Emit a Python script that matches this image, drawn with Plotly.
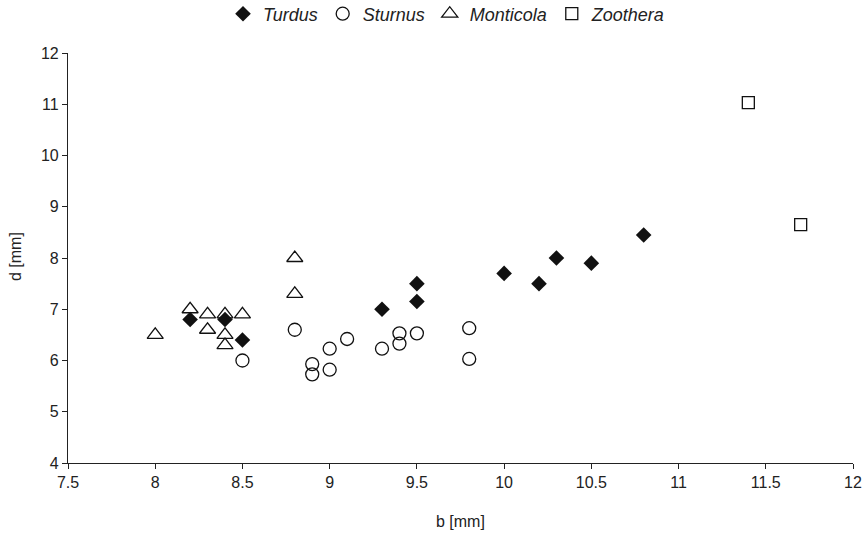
import plotly.graph_objects as go

turdus_b = [8.2, 8.4, 8.5, 9.3, 9.5, 9.5, 10.0, 10.2, 10.3, 10.5, 10.8]
turdus_d = [6.8, 6.8, 6.4, 7.0, 7.5, 7.15, 7.7, 7.5, 8.0, 7.9, 8.45]

sturnus_b = [8.5, 8.8, 8.9, 8.9, 9.0, 9.0, 9.1, 9.3, 9.4, 9.4, 9.5, 9.8, 9.8]
sturnus_d = [6.0, 6.6, 5.93, 5.73, 6.23, 5.82, 6.42, 6.23, 6.53, 6.33, 6.53, 6.63, 6.03]

monticola_b = [8.0, 8.2, 8.3, 8.3, 8.4, 8.4, 8.4, 8.5, 8.8, 8.8]
monticola_d = [6.5, 7.0, 6.9, 6.6, 6.9, 6.5, 6.3, 6.9, 8.0, 7.3]

zoothera_b = [11.4, 11.7]
zoothera_d = [11.03, 8.65]

x_ticks = [7.5, 8, 8.5, 9, 9.5, 10, 10.5, 11, 11.5, 12]
y_ticks = [4, 5, 6, 7, 8, 9, 10, 11, 12]

W, H = 866, 535
L, R, T, B = 68, 13, 53, 72
plot_w = W - L - R
plot_h = H - T - B

fig = go.Figure()
fig.add_trace(go.Scatter(x=monticola_b, y=monticola_d, mode="markers", name="Monticola",
                         marker=dict(symbol="triangle-up-open", size=14, color="#111",
                                     line=dict(width=1.3))))
fig.add_trace(go.Scatter(x=sturnus_b, y=sturnus_d, mode="markers", name="Sturnus",
                         marker=dict(symbol="circle-open", size=13, color="#111",
                                     line=dict(width=1.3))))
fig.add_trace(go.Scatter(x=zoothera_b, y=zoothera_d, mode="markers", name="Zoothera",
                         marker=dict(symbol="square-open", size=12, color="#111",
                                     line=dict(width=1.3))))
fig.add_trace(go.Scatter(x=turdus_b, y=turdus_d, mode="markers", name="Turdus",
                         marker=dict(symbol="diamond", size=12, color="#111",
                                     line=dict(width=0))))

fig.update_layout(
    width=W, height=H,
    margin=dict(l=L, r=R, t=T, b=B, autoexpand=False),
    paper_bgcolor="white", plot_bgcolor="white",
    font=dict(family="Liberation Sans, Arial, sans-serif", size=16, color="#222"),
    legend=dict(orientation="h", x=(446.5 - L) / plot_w, xanchor="center",
                y=1 + (T - 14) / plot_h, yanchor="middle",
                traceorder="normal", font=dict(size=18, style="italic"),
                itemwidth=30),
    xaxis=dict(range=[7.5, 12], tickvals=x_ticks, ticktext=[str(v) for v in x_ticks],
               showgrid=False, zeroline=False, showline=True, linecolor="#222",
               linewidth=1.2, ticks="outside", ticklen=5, tickcolor="#222",
               automargin=False, tickfont=dict(size=16)),
    yaxis=dict(range=[4, 12], tickvals=y_ticks, showgrid=False, zeroline=False,
               showline=True, linecolor="#222", linewidth=1.2, ticks="outside",
               ticklen=5, tickcolor="#222", automargin=False, tickfont=dict(size=16)),
    annotations=[
        dict(text="b [mm]", x=(460 - L) / plot_w, y=-(521 - (H - B)) / plot_h,
             xref="paper", yref="paper", xanchor="center", yanchor="middle",
             showarrow=False, font=dict(size=16)),
        dict(text="d [mm]", x=(15 - L) / plot_w, y=(H - B - 257) / plot_h,
             xref="paper", yref="paper", xanchor="center", yanchor="middle",
             showarrow=False, textangle=-90, font=dict(size=16)),
    ],
)

ranks = {"Turdus": 1, "Sturnus": 2, "Monticola": 3, "Zoothera": 4}
for tr in fig.data:
    tr.legendrank = ranks[tr.name]

fig.write_html("out.html", config={"displayModeBar": False},
               post_script="document.body.style.margin='0';")
